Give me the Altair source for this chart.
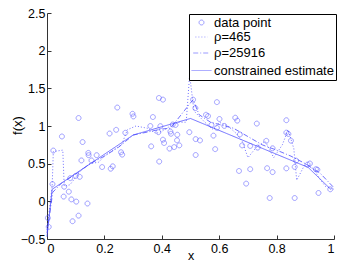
import altair as alt
import pandas as pd

BLUE = "#4b4bff"
FONT = "Liberation Sans"

# data points
pts_x = [0.003, 0.006, 0.019, 0.022, 0.052, 0.058, 0.060, 0.076, 0.081, 0.085,
         0.089, 0.100, 0.102, 0.110, 0.110, 0.114, 0.120, 0.124, 0.141, 0.144,
         0.145, 0.155, 0.173, 0.192, 0.218, 0.222, 0.229, 0.241, 0.245, 0.258,
         0.262, 0.273, 0.298, 0.301, 0.360, 0.363, 0.369, 0.388, 0.390, 0.391,
         0.395, 0.404, 0.404, 0.408, 0.427, 0.430, 0.432, 0.438, 0.443, 0.448,
         0.453, 0.454, 0.461, 0.496, 0.509, 0.517, 0.518, 0.518, 0.533, 0.554,
         0.561, 0.573, 0.580, 0.586, 0.592, 0.592, 0.601, 0.618, 0.656, 0.663,
         0.669, 0.672, 0.680, 0.694, 0.708, 0.708, 0.731, 0.734, 0.764, 0.767,
         0.776, 0.786, 0.786, 0.834, 0.834, 0.834, 0.841, 0.850, 0.863, 0.863,
         0.868, 0.908, 0.916, 0.937, 0.942, 0.946, 0.987]
pts_y = [-0.221, -0.339, 0.229, 0.674, 0.861, 0.063, 0.194, 0.128, 0.308, 0.026,
         -0.264, 0.338, -0.004, -0.190, 1.106, 0.325, 0.543, 0.787, -0.029, 0.643,
         0.613, 0.543, 0.613, 0.455, 0.900, 0.433, 0.465, 0.949, 1.245, 0.652,
         0.620, 0.910, 1.162, 1.127, 1.000, 0.730, 1.119, 0.918, 1.372, 0.528,
         0.998, 1.350, 0.818, 0.774, 0.700, 0.927, 0.897, 1.020, 0.720, 1.014,
         0.810, 0.884, 0.743, 0.918, 1.350, 1.238, 0.826, 0.615, 0.809, 1.149,
         1.132, 1.014, 0.872, 0.693, 1.317, 0.975, 1.093, 1.001, 1.110, 1.071,
         0.403, 0.888, 0.743, 0.235, 0.735, 0.427, 1.032, 0.713, 0.803, 0.440,
         0.044, 0.704, 0.388, 1.077, 0.912, 0.438, 0.894, 0.805, 0.457, 0.044,
         0.540, 0.488, 0.502, 0.427, 0.420, 0.111, 0.160]

# rho = 465 (dotted)
r1_x = [0.0, 0.005, 0.018, 0.022, 0.055, 0.06, 0.08, 0.1, 0.12, 0.15, 0.18, 0.2,
        0.23, 0.26, 0.28, 0.31, 0.35, 0.38, 0.4, 0.43, 0.46, 0.485, 0.497, 0.512,
        0.55, 0.58, 0.6, 0.63, 0.66, 0.68, 0.7, 0.73, 0.76, 0.79, 0.82, 0.84,
        0.86, 0.87, 0.9, 0.93, 0.95, 0.97, 1.0]
r1_y = [-0.38, -0.22, 0.2, 0.66, 0.68, 0.2, 0.22, 0.32, 0.42, 0.5, 0.52, 0.6,
        0.68, 0.75, 0.95, 1.0, 0.97, 0.9, 0.93, 1.0, 1.05, 1.05, 1.68, 1.2,
        1.05, 0.95, 1.05, 1.0, 0.9, 0.8, 0.58, 0.72, 0.8, 0.58, 0.75, 0.95,
        0.7, 0.28, 0.5, 0.42, 0.3, 0.2, 0.16]

# rho = 25916 (dash-dot)
r2_x = [0.0, 0.02, 0.05, 0.1, 0.15, 0.2, 0.25, 0.3, 0.35, 0.4, 0.43, 0.48,
        0.509, 0.53, 0.57, 0.6, 0.65, 0.7, 0.75, 0.8, 0.85, 0.9, 0.95, 1.0]
r2_y = [-0.42, 0.12, 0.24, 0.36, 0.5, 0.6, 0.72, 0.88, 0.92, 0.96, 0.97, 1.21,
        1.35, 1.15, 1.05, 1.02, 0.97, 0.86, 0.75, 0.68, 0.6, 0.5, 0.38, 0.18]

# constrained estimate (solid)
est_x = [0.0, 0.018, 0.30, 0.50, 0.91, 0.99]
est_y = [-0.47, 0.16, 0.88, 1.10, 0.45, 0.155]

names = ["data point", "ρ=465", "ρ=25916", "constrained estimate"]

pts = pd.DataFrame({"x": pts_x, "y": pts_y, "series": names[0]})
lines = pd.concat([
    pd.DataFrame({"x": r1_x, "y": r1_y, "series": names[1]}),
    pd.DataFrame({"x": r2_x, "y": r2_y, "series": names[2]}),
    pd.DataFrame({"x": est_x, "y": est_y, "series": names[3]}),
])

legend = alt.Legend(
    title=None, orient="none", legendX=142, legendY=1,
    fillColor="white", strokeColor="black", padding=2,
    labelFont=FONT, labelFontSize=13, labelColor="black", labelOffset=2,
    symbolStrokeColor=BLUE, symbolStrokeWidth=0.8, symbolFillColor="transparent",
    rowPadding=0, labelLimit=200,
)

dash_scale = alt.Scale(domain=names, range=[[1, 0], [1, 2], [5, 2, 1, 2], [1, 0]])

xs = alt.Scale(domain=[0, 1], nice=False, zero=False)
ys = alt.Scale(domain=[-0.5, 2.5], nice=False, zero=False)
xticks = [0, 0.2, 0.4, 0.6, 0.8, 1]
yticks = [-0.5, 0, 0.5, 1, 1.5, 2, 2.5]

x_main = alt.Axis(values=xticks, format="~g", ticks=False, domain=True,
                  domainColor="#333", grid=False, title="x", labelPadding=3,
                  labelFont=FONT, labelFontSize=12.5, labelColor="black",
                  titleFont=FONT, titleFontSize=12.5, titleFontWeight="normal",
                  titleY=10, titleBaseline="top", titleColor="black", orient="bottom")
y_main = alt.Axis(values=yticks, format="~g", ticks=False, domain=True,
                  domainColor="#333", grid=False, title="f(x)", labelPadding=2,
                  labelFont=FONT, labelFontSize=12.5, labelColor="black",
                  titleFont=FONT, titleFontSize=13, titleFontWeight="normal",
                  titleX=-30, titleY=112, titleBaseline="middle", titleAngle=270,
                  titleColor="black", orient="left")
x_tick = alt.Axis(values=xticks, orient="bottom", offset=-4, tickSize=4,
                  tickColor="#333", labels=False, domain=False, grid=False, title=None)
y_tick = alt.Axis(values=yticks, orient="left", offset=-4, tickSize=4,
                  tickColor="#333", labels=False, domain=False, grid=False, title=None)

points = alt.Chart(pts).mark_point(filled=False, strokeWidth=0.8, color=BLUE).encode(
    x=alt.X("x:Q", scale=xs, axis=x_main),
    y=alt.Y("y:Q", scale=ys, axis=y_main),
    shape=alt.Shape("series:N", scale=alt.Scale(domain=names,
                    range=["circle", "stroke", "stroke", "stroke"]), legend=legend),
    size=alt.Size("series:N", scale=alt.Scale(domain=names, range=[24, 400, 400, 400]),
                  legend=legend),
    strokeDash=alt.StrokeDash("series:N", scale=dash_scale, legend=legend),
)

line_layer = alt.Chart(lines).mark_line(strokeWidth=0.8, color=BLUE).encode(
    x=alt.X("x:Q", scale=xs, axis=x_tick),
    y=alt.Y("y:Q", scale=ys, axis=y_tick),
    strokeDash=alt.StrokeDash("series:N", scale=dash_scale, legend=legend),
    detail="series:N",
)

chart = alt.layer(line_layer, points).resolve_axis(
    x="independent", y="independent"
).properties(
    width=287, height=226,
    autosize=alt.AutoSizeParams(type="none"),
    padding={"left": 39, "top": 5, "right": 4, "bottom": 24},
).configure_view(stroke=None)

chart.save("out.html", embed_options={"renderer": "svg", "actions": False})
